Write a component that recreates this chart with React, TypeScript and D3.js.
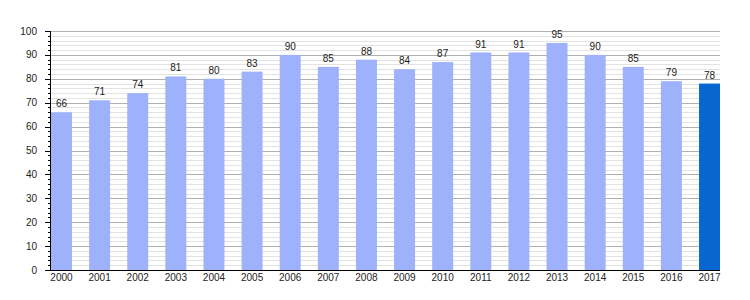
import React from "react";
import * as d3 from "d3";

const years = ["2000","2001","2002","2003","2004","2005","2006","2007","2008","2009","2010","2011","2012","2013","2014","2015","2016","2017"];
const values = [66,71,74,81,80,83,90,85,88,84,87,91,91,95,90,85,79,78];
const yTicks = [0,10,20,30,40,50,60,70,80,90,100];

export default function App() {
  const W = 750, H = 300;
  const left = 50, right = 720, top = 31, bottom = 270;
  const x = d3.scaleBand<string>().domain(years).range([left + 1, right]).paddingInner(0.45).paddingOuter(0).align(0);
  const y = d3.scaleLinear().domain([0, 100]).range([bottom, top]);
  const minor = d3.range(0, 101, 2).filter((v) => v % 10 !== 0);
  const font = "Liberation Sans, Arial, sans-serif";
  return (
    <svg width={W} height={H} style={{ position: "absolute", left: 0, top: 0 }} fontFamily={font}>
      <rect width={W} height={H} fill="#fff" />
      {minor.map((v) => (
        <line key={"m" + v} x1={left} x2={right} y1={Math.round(y(v)) + 0.5} y2={Math.round(y(v)) + 0.5} stroke="#e2e2e2" />
      ))}
      {yTicks.filter((v) => v > 0).map((v) => (
        <line key={"g" + v} x1={left} x2={right} y1={Math.round(y(v)) + 0.5} y2={Math.round(y(v)) + 0.5} stroke="#b0b0b0" />
      ))}
      {values.map((v, i) => (
        <rect key={"b" + i} x={x(years[i])} y={y(v)} width={x.bandwidth()} height={bottom - y(v)} fill={i === values.length - 1 ? "#0766d0" : "#9db2fb"} />
      ))}
      {values.map((v, i) => (
        <text key={"l" + i} x={(x(years[i]) as number) + x.bandwidth() / 2} y={y(v) - 5} textAnchor="middle" fontSize={10} fill="#222">{v}</text>
      ))}
      <line x1={left + 0.5} x2={left + 0.5} y1={top} y2={bottom} stroke="#000" />
      <line x1={left} x2={right} y1={bottom + 0.5} y2={bottom + 0.5} stroke="#000" />
      {minor.map((v) => (
        <line key={"mt" + v} x1={left - 2} x2={left} y1={Math.round(y(v)) + 0.5} y2={Math.round(y(v)) + 0.5} stroke="#000" />
      ))}
      {yTicks.map((v) => (
        <line key={"t" + v} x1={left - 5} x2={left} y1={Math.round(y(v)) + 0.5} y2={Math.round(y(v)) + 0.5} stroke="#000" />
      ))}
      {yTicks.map((v) => (
        <text key={"yl" + v} x={37} y={y(v) + 3.5} textAnchor="end" fontSize={10} fill="#222">{v}</text>
      ))}
      {years.map((yr) => (
        <text key={"xl" + yr} x={(x(yr) as number) + x.bandwidth() / 2} y={bottom + 11} textAnchor="middle" fontSize={10} fill="#222">{yr}</text>
      ))}
    </svg>
  );
}
